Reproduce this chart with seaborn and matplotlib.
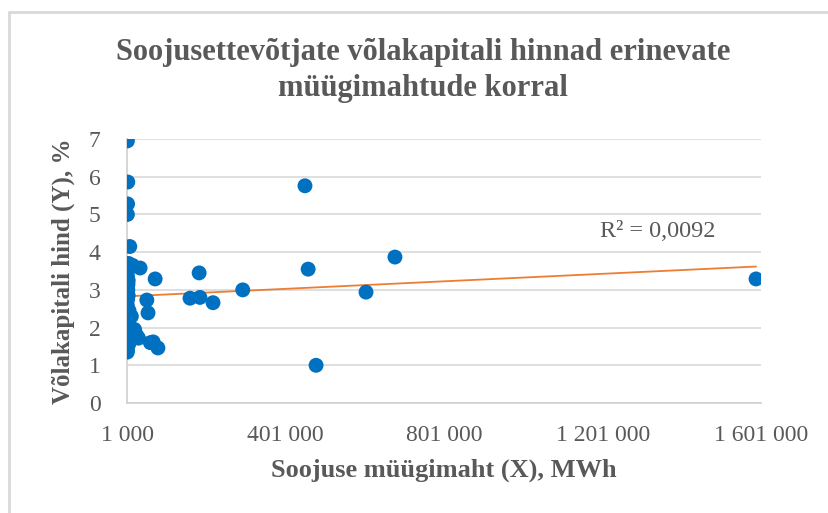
import numpy as np
import pandas as pd
import matplotlib
matplotlib.use("Agg")
import matplotlib.pyplot as plt
import seaborn as sns

# heat sold (MWh) and debt capital price (%) per company
sales_mwh = [
    2000, 3000, 2500, 2000, 8000, 5000, 3000, 1500, 2000, 4000,
    2000, 3000, 1500, 2500, 1500, 3000, 2000, 1500, 3000, 2000,
    5000, 3000, 2000, 1500, 2000, 1800, 4000, 6000, 3500, 5000,
    34000, 15000, 20000, 30000, 25000, 12000,
    72000, 51000, 54000, 67000, 79000, 60000,
    160000, 185000, 183000, 218000, 293000,
    450000, 458000, 478000, 604000, 677000, 1588000,
]
debt_price = [
    6.95, 5.86, 5.28, 5.00, 4.15, 3.70, 3.55, 3.45, 3.35, 3.25,
    3.10, 3.00, 2.90, 2.75, 2.60, 2.50, 2.35, 2.20, 2.10, 2.00,
    1.90, 1.80, 1.65, 1.50, 1.40, 1.35, 2.85, 2.45, 3.15, 1.55,
    3.58, 3.65, 1.95, 1.72, 1.80, 2.30,
    3.29, 2.73, 2.39, 1.62, 1.46, 1.60,
    2.78, 2.80, 3.45, 2.66, 3.00,
    5.76, 3.55, 1.00, 2.94, 3.87, 3.29,
]
x_ticks = [1000, 401000, 801000, 1201000, 1601000]
x_tick_labels = ["1 000", "401 000", "801 000", "1 201 000", "1 601 000"]
r2_label = "R² = 0,0092"

df = pd.DataFrame({"x": sales_mwh, "y": debt_price})

sns.set_style("white")
plt.rcParams["font.family"] = ["Liberation Serif", "DejaVu Serif"]
grey = "#595959"

fig = plt.figure(figsize=(8.29, 5.13), dpi=100)
ax = fig.add_axes([0.1532, 0.2144, 0.765, 0.5146])

# chart frame (only top and left edge show in the crop)
fig.add_artist(plt.Line2D([9 / 829, 1], [1 - 12 / 513, 1 - 12 / 513],
                          color="#d9d9d9", lw=2, transform=fig.transFigure))
fig.add_artist(plt.Line2D([9 / 829, 9 / 829], [0, 1 - 12 / 513],
                          color="#d9d9d9", lw=2, transform=fig.transFigure))

sns.scatterplot(data=df, x="x", y="y", ax=ax, color="#0070C0", s=115,
                edgecolor="none", zorder=3, legend=False)

# linear trend line like Excel's
k, b = np.polyfit(df["x"], df["y"], 1)
tx = np.array([df["x"].min(), df["x"].max()])
ax.plot(tx, k * tx + b, color="#ED7D31", lw=1.3, zorder=2)

ax.text(1195000, 4.55, r2_label, fontsize=17.5, color=grey, va="center")

ax.set_xlim(1000, 1601000)
ax.set_ylim(0, 7)
ax.set_xticks(x_ticks)
ax.set_xticklabels(x_tick_labels)
ax.set_yticks(range(0, 8))
ax.yaxis.grid(True, color="#d9d9d9", lw=1.2)
ax.set_axisbelow(True)
for side in ["top", "right"]:
    ax.spines[side].set_visible(False)
for side in ["left", "bottom"]:
    ax.spines[side].set_color("#d0d0d0")
    ax.spines[side].set_linewidth(1.2)
ax.tick_params(axis="x", colors="#d0d0d0", labelcolor=grey, labelsize=17,
               direction="inout", length=10, width=1.2, pad=11)
ax.tick_params(axis="y", length=0, labelcolor=grey, labelsize=17, pad=19)

ax.set_xlabel("Soojuse müügimaht (X), MWh", fontsize=19, fontweight="bold",
              color=grey, labelpad=9)
ax.set_ylabel("Võlakapitali hind (Y), %", fontsize=18, fontweight="bold",
              color=grey, labelpad=10)

fig.text(0.51, 0.862, "Soojusettevõtjate võlakapitali hinnad erinevate\nmüügimahtude korral",
         ha="center", va="center", fontsize=22, fontweight="bold", color=grey,
         linespacing=1.3)

fig.savefig("out.png", dpi=100, facecolor="white")
